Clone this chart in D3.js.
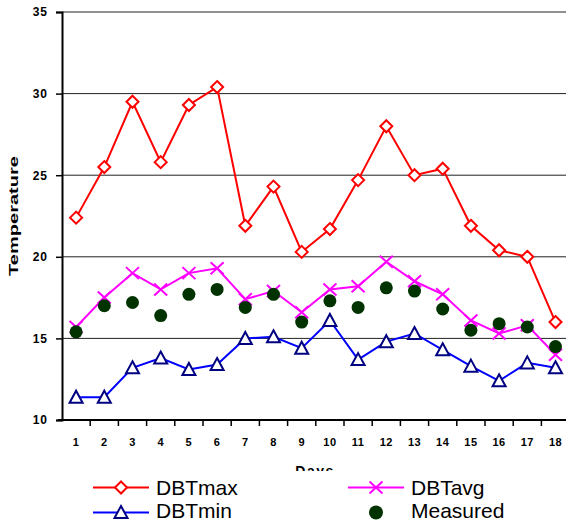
<!DOCTYPE html>
<html>
<head>
<meta charset="utf-8">
<script src="https://cdn.jsdelivr.net/npm/d3@7"></script>
<style>
  html, body { margin: 0; padding: 0; background: #fff; }
  svg { display: block; }
</style>
</head>
<body>
<svg id="chart" width="566" height="523"></svg>
<script>
// Daily dry-bulb temperatures (DBT) against measured values
const days = ["1","2","3","4","5","6","7","8","9","10","11","12","13","14","15","16","17","18"];
const dbtMax = [22.4, 25.5, 29.5, 25.8, 29.3, 30.4, 21.9, 24.3, 20.3, 21.7, 24.7, 28.0, 25.0, 25.4, 21.9, 20.4, 20.0, 16.0];
const dbtMin = [11.4, 11.4, 13.2, 13.8, 13.1, 13.4, 15.0, 15.1, 14.4, 16.1, 13.7, 14.8, 15.3, 14.3, 13.3, 12.4, 13.5, 13.2];
const dbtAvg = [15.7, 17.5, 19.0, 18.0, 19.0, 19.3, 17.4, 17.9, 16.6, 18.0, 18.2, 19.7, 18.5, 17.7, 16.1, 15.3, 15.8, 14.0];
const measured = [15.4, 17.0, 17.2, 16.4, 17.7, 18.0, 16.9, 17.7, 16.0, 17.3, 16.9, 18.1, 17.9, 16.8, 15.5, 15.9, 15.7, 14.5];
const yTicks = [10, 15, 20, 25, 30, 35];

const svg = d3.select("#chart");
const plotL = 62, plotR = 569.6, plotT = 12, plotB = 420;

const x = d3.scaleBand().domain(days).range([plotL, plotR]).paddingInner(0).paddingOuter(0);
const y = d3.scaleLinear().domain([10, 35]).range([plotB, plotT]);
const cx = d => x(d) + x.bandwidth() / 2;

// horizontal gridlines
svg.append("g").selectAll("line")
  .data(yTicks.filter(t => t > 10))
  .join("line")
  .attr("x1", plotL).attr("x2", plotR)
  .attr("y1", d => y(d)).attr("y2", d => y(d))
  .attr("stroke", "#222").attr("stroke-width", 1);

// y axis
const yAxis = svg.append("g")
  .attr("transform", `translate(${plotL},0)`)
  .call(d3.axisLeft(y).tickValues(yTicks).tickSize(6).tickPadding(8).tickFormat(d3.format("d")));
yAxis.select(".domain").attr("stroke", "#000").attr("stroke-width", 2);
yAxis.selectAll(".tick line").attr("stroke", "#000").attr("stroke-width", 1.5);
yAxis.selectAll(".tick text")
  .attr("font-family", "Arial, 'Liberation Sans', sans-serif")
  .attr("font-size", 12).attr("font-weight", "bold")
  .attr("letter-spacing", 1).attr("fill", "#000");

// x axis: ticks at category boundaries, labels centred in each band
const xg = svg.append("g");
xg.append("line")
  .attr("x1", plotL - 4).attr("x2", plotR)
  .attr("y1", plotB).attr("y2", plotB)
  .attr("stroke", "#000").attr("stroke-width", 2);
xg.selectAll("line.tk")
  .data(days.slice(1))
  .join("line")
  .attr("class", "tk")
  .attr("x1", d => x(d)).attr("x2", d => x(d))
  .attr("y1", plotB).attr("y2", plotB + 6)
  .attr("stroke", "#000").attr("stroke-width", 1.5);
xg.selectAll("text")
  .data(days)
  .join("text")
  .attr("x", d => cx(d))
  .attr("y", plotB + 26)
  .attr("text-anchor", "middle")
  .attr("font-family", "Arial, 'Liberation Sans', sans-serif")
  .attr("font-size", 11).attr("font-weight", "bold")
  .attr("letter-spacing", 0.5)
  .text(d => d);

// axis titles
svg.append("text")
  .attr("transform", "translate(18,216) rotate(-90)")
  .attr("text-anchor", "middle")
  .attr("font-family", "Arial, 'Liberation Sans', sans-serif")
  .attr("font-size", 12).attr("font-weight", "bold")
  .attr("textLength", 120).attr("lengthAdjust", "spacingAndGlyphs")
  .text("Temperature");

svg.append("text")
  .attr("x", 315).attr("y", 476)
  .attr("text-anchor", "middle")
  .attr("font-family", "Arial, 'Liberation Sans', sans-serif")
  .attr("font-size", 14).attr("font-weight", "bold")
  .attr("letter-spacing", 1.5)
  .text("Days");

// marker shapes
const diamond = "M0,-6L6,0L0,6L-6,0Z";
const triangle = "M0,-6.5L6.5,5.5L-6.5,5.5Z";
const cross = "M-6.5,-6L6.5,6M6.5,-6L-6.5,6";

const line = d3.line().x((v, i) => cx(days[i])).y(v => y(v));

function series(values, color, shape, markerStroke, fill) {
  const g = svg.append("g");
  g.append("path")
    .attr("d", line(values))
    .attr("fill", "none").attr("stroke", color).attr("stroke-width", 2);
  g.selectAll("path.m")
    .data(values)
    .join("path")
    .attr("class", "m")
    .attr("transform", (v, i) => `translate(${cx(days[i])},${y(v)})`)
    .attr("d", shape)
    .attr("fill", fill).attr("stroke", markerStroke).attr("stroke-width", 2);
}

series(dbtMax, "#ff0000", diamond, "#ff0000", "#fff");
series(dbtMin, "#0000ff", triangle, "#000080", "#fff");
series(dbtAvg, "#ff00ff", cross, "#ff00ff", "none");

svg.append("g").selectAll("circle")
  .data(measured)
  .join("circle")
  .attr("cx", (v, i) => cx(days[i]))
  .attr("cy", v => y(v))
  .attr("r", 6.5)
  .attr("fill", "#003300");

// legend
const lg = svg.append("g");
lg.append("rect").attr("x", 0).attr("y", 471).attr("width", 566).attr("height", 52).attr("fill", "#fff");

const legendItems = [
  { name: "DBTmax", color: "#ff0000", shape: diamond, stroke: "#ff0000", fill: "#fff", lx: 93, ly: 487.5, ty: 495 },
  { name: "DBTavg", color: "#ff00ff", shape: cross, stroke: "#ff00ff", fill: "none", lx: 348, ly: 487.5, ty: 495 },
  { name: "DBTmin", color: "#0000ff", shape: triangle, stroke: "#000080", fill: "#fff", lx: 93, ly: 512.5, ty: 518 },
  { name: "Measured", color: null, shape: null, lx: 348, ly: 512.5, ty: 518 }
];

legendItems.forEach(it => {
  const g = lg.append("g");
  const mid = it.lx + 28;
  if (it.color) {
    g.append("line")
      .attr("x1", it.lx).attr("x2", it.lx + 56)
      .attr("y1", it.ly).attr("y2", it.ly)
      .attr("stroke", it.color).attr("stroke-width", 2);
    g.append("path")
      .attr("transform", `translate(${mid},${it.ly})`)
      .attr("d", it.shape)
      .attr("fill", it.fill).attr("stroke", it.stroke).attr("stroke-width", 2);
  } else {
    g.append("circle").attr("cx", mid).attr("cy", it.ly).attr("r", 7).attr("fill", "#003300");
  }
  g.append("text")
    .attr("x", it.lx + 63).attr("y", it.ty)
    .attr("font-family", "Arial, 'Liberation Sans', sans-serif")
    .attr("font-size", 21)
    .attr("fill", "#000")
    .text(it.name);
});
</script>
</body>
</html>
